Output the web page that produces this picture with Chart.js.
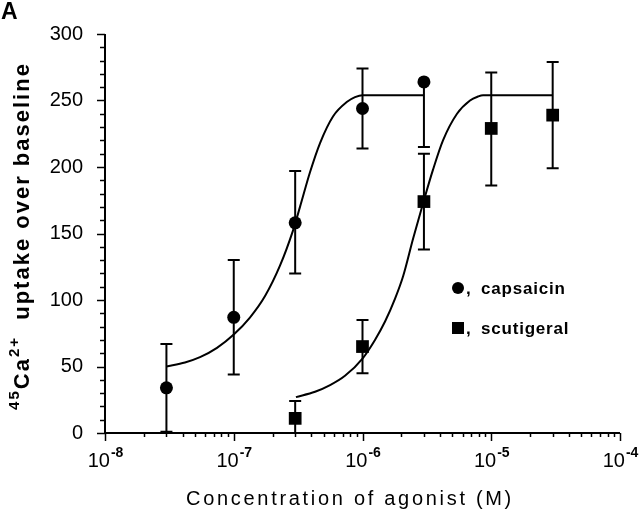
<!DOCTYPE html>
<html>
<head>
<meta charset="utf-8">
<script src="https://cdn.jsdelivr.net/npm/chart.js@4/dist/chart.umd.min.js"></script>
<style>
  html, body { margin: 0; padding: 0; background: #fff; }
  #wrap { width: 640px; height: 517px; position: relative; }
</style>
</head>
<body>
<div id="wrap"><canvas id="chart" width="640" height="517"></canvas></div>
<script>
const capsaicinConc = [3e-8, 1e-7, 3e-7, 1e-6, 3e-6];
const capsaicinMean = [34, 87, 158, 244, 264];
const capsaicinErrUp = [33, 43, 39, 30, 0];
const capsaicinErrDown = [33, 43, 38, 30, 49];

const scutigeralConc = [3e-7, 1e-6, 3e-6, 1e-5, 3e-5];
const scutigeralMean = [11, 65, 174, 229, 239];
const scutigeralErrUp = [13, 20, 36, 42, 40];
const scutigeralErrDown = [11, 20, 36, 43, 40];

// fitted curves
const capsaicinCurveX = [3e-8, 4.18e-8, 5.47e-8, 7.41e-8, 1e-7, 1.34e-7, 1.75e-7, 2.29e-7, 2.88e-7, 3.27e-7, 3.91e-7, 4.68e-7, 5.9e-7, 7.59e-7, 8.75e-7, 1e-6, 3e-6];
const capsaicinCurveY = [50, 53, 57, 64, 74, 87, 103, 126, 152, 170, 196, 218, 238, 249, 252.5, 254, 254];
const scutigeralCurveX = [3.04e-7, 4.28e-7, 5.6e-7, 7.31e-7, 1e-6, 1.25e-6, 1.5e-6, 1.79e-6, 2.07e-6, 2.47e-6, 3e-6, 3.53e-6, 4.22e-6, 5.42e-6, 6.84e-6, 7.89e-6, 8.63e-6, 3e-5];
const scutigeralCurveY = [27, 31, 36, 43, 56, 70, 84, 101, 118, 146, 175, 198, 220, 240, 250, 253, 254, 254];

const xDecades = [1e-8, 1e-7, 1e-6, 1e-5, 1e-4];
const xExponents = ['-8', '-7', '-6', '-5', '-4'];
const yTicks = [0, 50, 100, 150, 200, 250, 300];

const FONT = '"Liberation Sans", Arial, sans-serif';

const toPts = (xs, ys) => xs.map((x, i) => ({ x, y: ys[i] }));

// error bars, axes ticks, labels and legend
const decorPlugin = {
  id: 'decor',
  afterDatasetsDraw(chart) {
    const { ctx, scales: { x, y } } = chart;
    ctx.save();
    ctx.strokeStyle = '#000';
    ctx.lineWidth = 2;
    const bars = [
      [capsaicinConc, capsaicinMean, capsaicinErrUp, capsaicinErrDown],
      [scutigeralConc, scutigeralMean, scutigeralErrUp, scutigeralErrDown],
    ];
    bars.forEach(([cs, ms, up, dn]) => {
      cs.forEach((c, i) => {
        const px = x.getPixelForValue(c);
        const ends = [];
        if (up[i] > 0) ends.push(ms[i] + up[i]);
        if (dn[i] > 0) ends.push(ms[i] - dn[i]);
        ends.forEach(v => {
          const py0 = y.getPixelForValue(ms[i]);
          const py1 = y.getPixelForValue(v);
          ctx.beginPath();
          ctx.moveTo(px, py0);
          ctx.lineTo(px, py1);
          ctx.moveTo(px - 6, py1);
          ctx.lineTo(px + 6, py1);
          ctx.stroke();
        });
      });
    });
    ctx.restore();
  },
  afterDraw(chart) {
    const { ctx, scales: { x, y }, chartArea: a } = chart;
    ctx.save();
    ctx.strokeStyle = '#000';
    ctx.fillStyle = '#000';
    ctx.lineWidth = 2;
    // axis lines
    ctx.beginPath();
    ctx.moveTo(a.left, a.top);
    ctx.lineTo(a.left, a.bottom);
    ctx.lineTo(a.right, a.bottom);
    ctx.stroke();
    // y ticks
    ctx.lineWidth = 1.5;
    for (let v = 0; v <= 300; v += 10) {
      const py = Math.round(y.getPixelForValue(v)) + 0.5;
      const len = v % 50 === 0 ? 8 : 5;
      ctx.beginPath();
      ctx.moveTo(a.left - len, py);
      ctx.lineTo(a.left, py);
      ctx.stroke();
    }
    // x ticks
    xDecades.forEach((d, i) => {
      const px = Math.round(x.getPixelForValue(d)) + 0.5;
      ctx.beginPath();
      ctx.moveTo(px, a.bottom);
      ctx.lineTo(px, a.bottom + 8);
      ctx.stroke();
      if (i < xDecades.length - 1) {
        for (let k = 2; k <= 9; k++) {
          const mx = Math.round(x.getPixelForValue(d * k)) + 0.5;
          ctx.beginPath();
          ctx.moveTo(mx, a.bottom);
          ctx.lineTo(mx, a.bottom + 4);
          ctx.stroke();
        }
      }
    });
    // x tick labels 10^n
    xDecades.forEach((d, i) => {
      const px = x.getPixelForValue(d);
      ctx.font = '20px ' + FONT;
      const wBase = ctx.measureText('10').width;
      ctx.font = 'bold 14px ' + FONT;
      const wExp = ctx.measureText(xExponents[i]).width;
      const left = px - (wBase + wExp) / 2;
      ctx.textBaseline = 'alphabetic';
      ctx.textAlign = 'left';
      ctx.font = '20px ' + FONT;
      ctx.fillText('10', left, a.bottom + 34);
      ctx.font = 'bold 14px ' + FONT;
      ctx.fillText(xExponents[i], left + wBase + 1, a.bottom + 24);
    });
    // x title
    ctx.font = '20px ' + FONT;
    ctx.letterSpacing = '2.7px';
    ctx.textAlign = 'center';
    ctx.fillText('Concentration of agonist (M)', 350, 505);
    // y title (rotated)
    ctx.save();
    ctx.translate(29, 236);
    ctx.rotate(-Math.PI / 2);
    ctx.letterSpacing = '2px';
    const parts = [
      ['45', 'bold 15px ', -10],
      ['Ca', 'bold 22px ', 0],
      ['2+', 'bold 15px ', -10],
      ['  uptake over baseline', 'bold 22px ', 0],
    ];
    let total = 0;
    parts.forEach(p => { ctx.font = p[1] + FONT; total += ctx.measureText(p[0]).width; });
    let cx = -total / 2;
    ctx.textAlign = 'left';
    parts.forEach(p => {
      ctx.font = p[1] + FONT;
      ctx.fillText(p[0], cx, p[2]);
      cx += ctx.measureText(p[0]).width;
    });
    ctx.restore();
    // panel letter
    ctx.letterSpacing = '0px';
    ctx.font = 'bold 23px ' + FONT;
    ctx.textAlign = 'left';
    ctx.fillText('A', 1, 19);
    // legend
    ctx.beginPath();
    ctx.arc(458, 288, 6, 0, Math.PI * 2);
    ctx.fill();
    ctx.fillRect(452, 322, 12, 12);
    ctx.font = 'bold 17px ' + FONT;
    ctx.letterSpacing = '0.8px';
    ctx.fillText(',', 466, 294);
    ctx.fillText('capsaicin', 481, 294);
    ctx.fillText(',', 466, 334);
    ctx.fillText('scutigeral', 481, 334);
    ctx.restore();
  }
};

new Chart(document.getElementById('chart'), {
  type: 'scatter',
  data: {
    datasets: [
      {
        label: 'capsaicin',
        data: toPts(capsaicinConc, capsaicinMean),
        pointStyle: 'circle',
        pointRadius: 6.5,
        backgroundColor: '#000',
        borderColor: '#000',
        borderWidth: 0,
        order: 0,
      },
      {
        label: 'scutigeral',
        data: toPts(scutigeralConc, scutigeralMean),
        pointStyle: 'rect',
        pointRadius: 9,
        backgroundColor: '#000',
        borderColor: '#000',
        borderWidth: 0,
        order: 0,
      },
      {
        label: 'capsaicin fit',
        type: 'line',
        data: toPts(capsaicinCurveX, capsaicinCurveY),
        borderColor: '#000',
        borderWidth: 2,
        pointRadius: 0,
        cubicInterpolationMode: 'monotone',
        fill: false,
        order: 1,
      },
      {
        label: 'scutigeral fit',
        type: 'line',
        data: toPts(scutigeralCurveX, scutigeralCurveY),
        borderColor: '#000',
        borderWidth: 2,
        pointRadius: 0,
        cubicInterpolationMode: 'monotone',
        fill: false,
        order: 1,
      },
    ],
  },
  options: {
    responsive: false,
    animation: false,
    layout: { padding: { top: 34, right: 20, left: 0, bottom: 0 } },
    plugins: { legend: { display: false }, tooltip: { enabled: false } },
    scales: {
      x: {
        type: 'logarithmic',
        min: 1e-8,
        max: 1e-4,
        grid: { display: false },
        border: { display: false },
        ticks: { display: false },
        afterFit: s => { s.height = 84; },
      },
      y: {
        min: 0,
        max: 300,
        afterBuildTicks: s => { s.ticks = yTicks.map(v => ({ value: v })); },
        grid: { display: false },
        border: { display: false },
        ticks: { color: '#000', font: { family: FONT, size: 20 }, padding: 14 },
        afterFit: s => { s.width = 105; },
      },
    },
  },
  plugins: [decorPlugin],
});
</script>
</body>
</html>
